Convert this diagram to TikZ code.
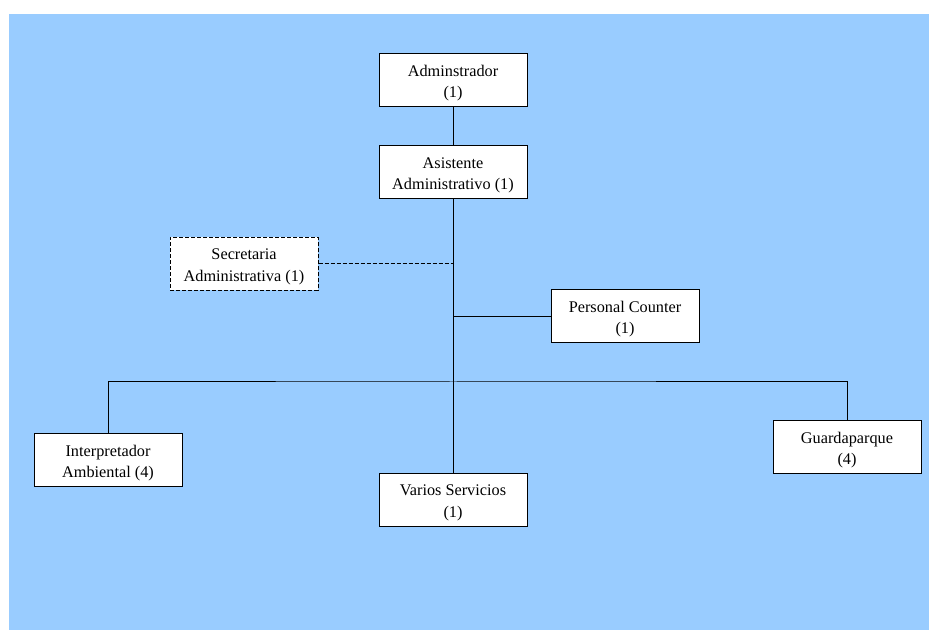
\documentclass[tikz,border=0pt]{standalone}
\usepackage{fontspec}
\setmainfont{Liberation Serif}
\usepackage{tikz}
\usetikzlibrary{positioning}
\definecolor{skyblue}{HTML}{99CCFF}
\tikzset{post/.style={rectangle,draw=black,line width=0.75pt,fill=white,
  minimum width=111pt,minimum height=39.75pt,inner sep=1pt,align=center,
  text height=28.6pt,text depth=2.6pt,
  font={\fontsize{12.2}{16.3}\selectfont}}}
\tikzset{aux/.style={post,dash pattern=on 3pt off 1.5pt}}

\begin{document}
\begin{tikzpicture}[x=0.75pt,y=-0.75pt,line width=0.75pt]
\useasboundingbox (0,0) rectangle (929,630);
\fill[skyblue] (9,14) rectangle (929,630);
% \draw[help lines] (0,0) grid (929,630);
\node (adm) [post] at (453,80.5) {Adminstrador\\(1)};
\node (asis) [post] at (453,172.5) {Asistente\\Administrativo (1)};
\node (sec) [aux] at (244,264) {Secretaria\\Administrativa (1)};
\node (pc) [post] at (625,316.5) {Personal Counter\\(1)};
\node (int) [post] at (108,460.5) {Interpretador\\Ambiental (4)};
\node (var) [post] at (453,500) {Varios Servicios\\(1)};
\node (gua) [post] at (847,447.5) {Guardaparque\\(4)};
\coordinate (bus) at (453,382);
%
\draw (adm) -- (asis);
\draw (asis) -- (var);
\draw[dash pattern=on 3pt off 1.5pt] (sec.east) -- (sec.east -| asis.south);
\draw (pc.west -| asis.south) -- (pc.west);
\draw (int.north) |- (bus) -| (gua.north);
\end{tikzpicture}
\end{document}
